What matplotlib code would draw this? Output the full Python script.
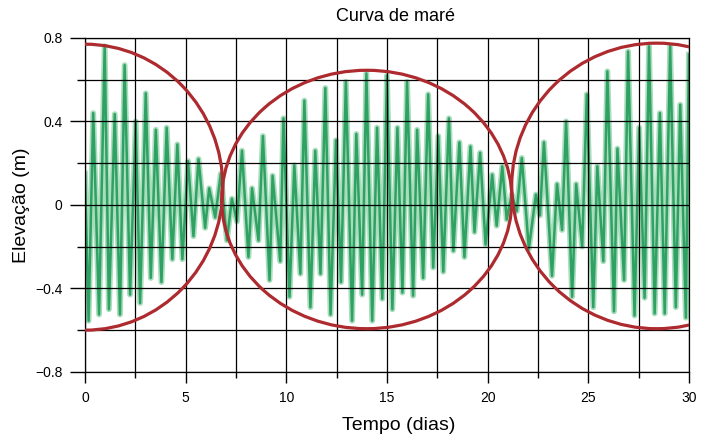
import numpy as np
import matplotlib.pyplot as plt
from matplotlib.patches import Ellipse
from matplotlib.ticker import MultipleLocator

plt.rcParams['font.family'] = ['Liberation Sans', 'DejaVu Sans']

# Tide extremes (time in days, elevation in m)
t_high = [0.00, 0.41, 0.98, 1.48, 1.97, 2.52, 3.02, 3.52, 4.06, 4.59,
          5.12, 5.64, 6.17, 6.75, 7.30, 7.80, 8.30, 8.84, 9.32, 9.86,
          10.40, 10.90, 11.44, 11.94, 12.47, 12.96, 13.48, 13.98, 14.51, 15.00,
          15.52, 16.00, 16.50, 17.05, 17.55, 18.08, 18.60, 19.15, 19.63, 20.23,
          20.73, 21.20, 21.70, 22.40, 22.80, 23.45, 23.90, 24.40, 24.93, 25.45,
          25.95, 26.45, 26.98, 27.53, 28.02, 28.56, 29.07, 29.57, 30.00]
h_high = [0.15, 0.44, 0.76, 0.435, 0.67, 0.40, 0.535, 0.36, 0.37, 0.29,
          0.21, 0.22, 0.08, 0.15, 0.03, 0.26, 0.08, 0.33, 0.14, 0.415,
          0.19, 0.50, 0.26, 0.56, 0.31, 0.59, 0.34, 0.63, 0.37, 0.62,
          0.37, 0.59, 0.36, 0.53, 0.33, 0.415, 0.30, 0.28, 0.25, 0.145,
          0.185, 0.05, 0.225, 0.05, 0.30, 0.10, 0.40, 0.10, 0.53, 0.185,
          0.64, 0.27, 0.735, 0.37, 0.76, 0.44, 0.76, 0.48, 0.72]

t_low = [0.18, 0.70, 1.19, 1.74, 2.24, 2.74, 3.27, 3.80, 4.34, 4.84,
         5.39, 5.97, 6.47, 7.05, 7.55, 8.12, 8.62, 9.17, 9.70, 10.16,
         10.70, 11.20, 11.70, 12.20, 12.72, 13.27, 13.77, 14.27, 14.77, 15.27,
         15.77, 16.30, 16.80, 17.30, 17.80, 18.30, 18.85, 19.35, 19.90, 20.45,
         20.95, 21.45, 22.05, 22.60, 23.20, 23.70, 24.20, 24.70, 25.25, 25.75,
         26.28, 26.78, 27.30, 27.80, 28.30, 28.80, 29.35, 29.85]
h_low = [-0.555, -0.525, -0.50, -0.525, -0.43, -0.47, -0.35, -0.37, -0.26, -0.26,
         -0.15, -0.11, -0.06, -0.17, -0.08, -0.25, -0.17, -0.36, -0.27, -0.44,
         -0.33, -0.49, -0.33, -0.525, -0.37, -0.555, -0.43, -0.555, -0.45, -0.50,
         -0.42, -0.435, -0.35, -0.30, -0.32, -0.22, -0.25, -0.13, -0.19, -0.10,
         -0.07, -0.03, -0.21, -0.05, -0.34, -0.12, -0.44, -0.20, -0.49, -0.27,
         -0.51, -0.36, -0.53, -0.445, -0.52, -0.52, -0.49, -0.54]

# Envelope ellipses (spring/neap cycles)
env_cx = [0.0, 14.0, 28.4]
env_cy = [0.085, 0.026, 0.091]
env_w = [13.7, 14.42, 14.4]
env_h = [1.37, 1.238, 1.368]

y_ticks = [-0.8, -0.4, 0, 0.4, 0.8]
y_labels = ['\u22120.8', '\u22120.4', '0', '0.4', '0.8']

t = np.concatenate([t_high, t_low])
h = np.concatenate([h_high, h_low])
order = np.argsort(t)
t, h = t[order], h[order]

fig = plt.figure(figsize=(7.08, 4.36), dpi=100)
ax = fig.add_axes([0.120, 0.147, 0.853, 0.766])

ax.plot(t, h, color='#a9ddbd', lw=4.2, zorder=1, solid_joinstyle='round')
ax.plot(t, h, color='#2fa263', lw=1.8, zorder=1.1, solid_joinstyle='round')

for cx, cy, w, hh in zip(env_cx, env_cy, env_w, env_h):
    ax.add_patch(Ellipse((cx, cy), w, hh, fill=False, ec='#ad2a2f', lw=2.3, zorder=3))

ax.set_xlim(0, 30)
ax.set_ylim(-0.8, 0.8)
ax.xaxis.set_major_locator(MultipleLocator(5))
ax.xaxis.set_minor_locator(MultipleLocator(2.5))
ax.set_yticks(y_ticks, labels=y_labels)
ax.yaxis.set_minor_locator(MultipleLocator(0.2))

ax.set_axisbelow(False)
ax.grid(True, which='both', color='black', lw=0.9)
for s in ax.spines.values():
    s.set_linewidth(0.9)

ax.tick_params(axis='x', which='major', length=8, width=1, pad=6, labelsize=10)
ax.tick_params(axis='x', which='minor', length=4.5, width=1)
ax.tick_params(axis='y', which='major', length=11, width=1, pad=5, labelsize=10)
ax.tick_params(axis='y', which='minor', length=6, width=1)

ax.set_title('Curva de maré', fontsize=13, x=0.515, pad=12)
ax.set_xlabel('Tempo (dias)', fontsize=14)
ax.set_ylabel('Elevação (m)', fontsize=14)
ax.xaxis.set_label_coords(0.52, -0.135)

fig.savefig('out.png', dpi=100)
